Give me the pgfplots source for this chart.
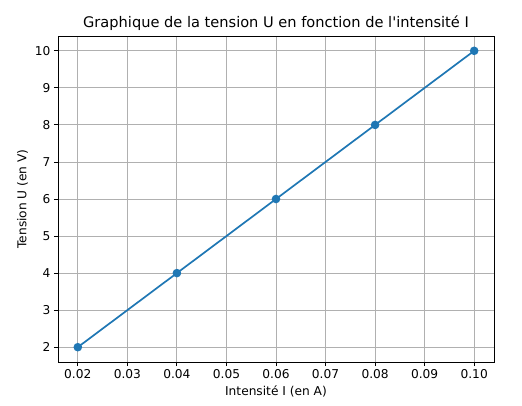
\documentclass[border=0pt]{standalone}
\usepackage{fontspec}
\setmainfont{DejaVu Sans}
\usepackage{pgfplots}
\pgfplotsset{compat=1.18}
\definecolor{mplblue}{HTML}{1F77B4}
\definecolor{mplgrid}{HTML}{B0B0B0}

\begin{document}
\begin{tikzpicture}[x=1pt,y=1pt]
\useasboundingbox (-58,-43) rectangle (464,362);
\begin{axis}[
    at={(0,0)}, anchor=south west,
    scale only axis, width=436pt, height=326pt,
    xmin=0.016, xmax=0.104, ymin=1.6, ymax=10.4,
    xtick={0.02,0.03,...,0.10}, ytick={2,3,...,10},
    xticklabel style={/pgf/number format/.cd, fixed, fixed zerofill, precision=2},
    /pgf/number format/assume math mode=true,
    scaled x ticks=false,
    tick label style={font=\fontsize{12.2}{14}\selectfont},
    label style={font=\fontsize{12.2}{14}\selectfont},
    title style={font=\fontsize{14.6}{17}\selectfont, yshift=-4pt},
    tick align=outside, tick pos=left,
    major tick length=4pt,
    axis line style={line width=0.9pt},
    every tick/.style={black, line width=0.9pt},
    grid=major, major grid style={mplgrid, line width=0.9pt},
    title={Graphique de la tension U en fonction de l\textquotesingle intensité I},
    xlabel={Intensité I (en A)}, ylabel={Tension U (en V)},
    xlabel style={yshift=0pt}, ylabel style={yshift=0pt},
]
\addplot[mplblue, line width=1.7pt, mark=*, mark size=3.4pt, mark options={solid}]
  coordinates {(0.02,2) (0.04,4) (0.06,6) (0.08,8) (0.10,10)};
\end{axis}
\end{tikzpicture}
\end{document}
